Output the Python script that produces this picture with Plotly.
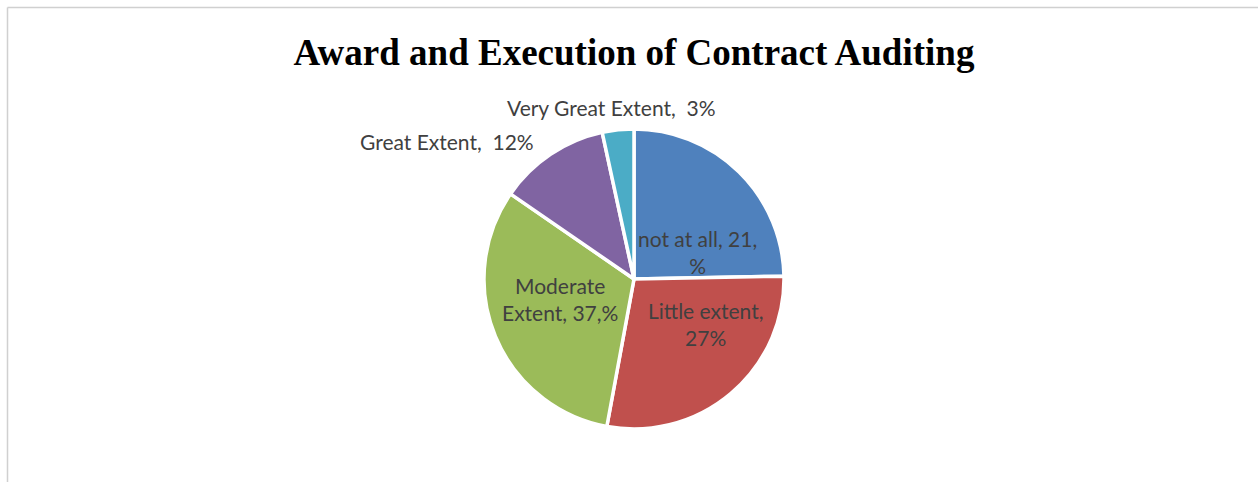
import plotly.graph_objects as go

# Data
categories = ["not at all", "Little extent", "Moderate Extent", "Great Extent", "Very Great Extent"]
slice_values = [24.7, 28.2, 31.7, 12.0, 3.4]          # slice sizes as drawn
label_texts = ["not at all, 21,<br>%", "Little extent,<br>27%", "Moderate<br>Extent, 37,%",
               "Great Extent,\u00a0 12%", "Very Great Extent,\u00a0 3%"]
colors = ["#4F81BD", "#C0504D", "#9BBB59", "#8064A2", "#4BACC6"]

# Label placement (pixel centres in the 1258x482 canvas), a layout setting
label_px = [(697, 252), (705, 324), (560, 299), (447, 141), (611, 107)]

W, H = 1258, 482
cx, cy, r = 634, 279, 150

fig = go.Figure(go.Pie(
    labels=categories,
    values=slice_values,
    textinfo="none",
    sort=False,
    direction="clockwise",
    rotation=0,
    marker=dict(colors=colors, line=dict(color="white", width=3.5)),
    domain=dict(x=[(cx - r) / W, (cx + r) / W], y=[(H - cy - r) / H, (H - cy + r) / H]),
    showlegend=False,
    hoverinfo="label+percent",
))

label_font = dict(family="Lato, Carlito, 'Open Sans', sans-serif", size=21, color="#404040")
annotations = []
for txt, (px, py) in zip(label_texts, label_px):
    annotations.append(dict(
        text=txt, x=px / W, y=1 - py / H, xref="paper", yref="paper",
        xanchor="center", yanchor="middle", showarrow=False, align="center",
        font=label_font,
    ))

fig.update_layout(
    width=W, height=H,
    margin=dict(l=0, r=0, t=0, b=0),
    paper_bgcolor="white",
    plot_bgcolor="white",
    title=dict(
        text="<b>Award and Execution of Contract Auditing</b>",
        x=634 / W, xanchor="center",
        y=1 - 52 / H, yanchor="middle",
        font=dict(family="'Liberation Serif', 'Times New Roman', serif", size=37, color="black"),
    ),
    annotations=annotations,
    shapes=[
        dict(type="line", xref="paper", yref="paper", x0=7.5 / W, x1=1.02, y0=1 - 7.5 / H, y1=1 - 7.5 / H,
             line=dict(color="#D0D0D0", width=1.5)),
        dict(type="line", xref="paper", yref="paper", x0=7.5 / W, x1=7.5 / W, y0=-0.02, y1=1 - 7.5 / H,
             line=dict(color="#D0D0D0", width=1.5)),
    ],
)

fig.write_html("out.html", config={"displayModeBar": False},
               post_script="document.body.style.margin='0';document.body.style.padding='0';")
